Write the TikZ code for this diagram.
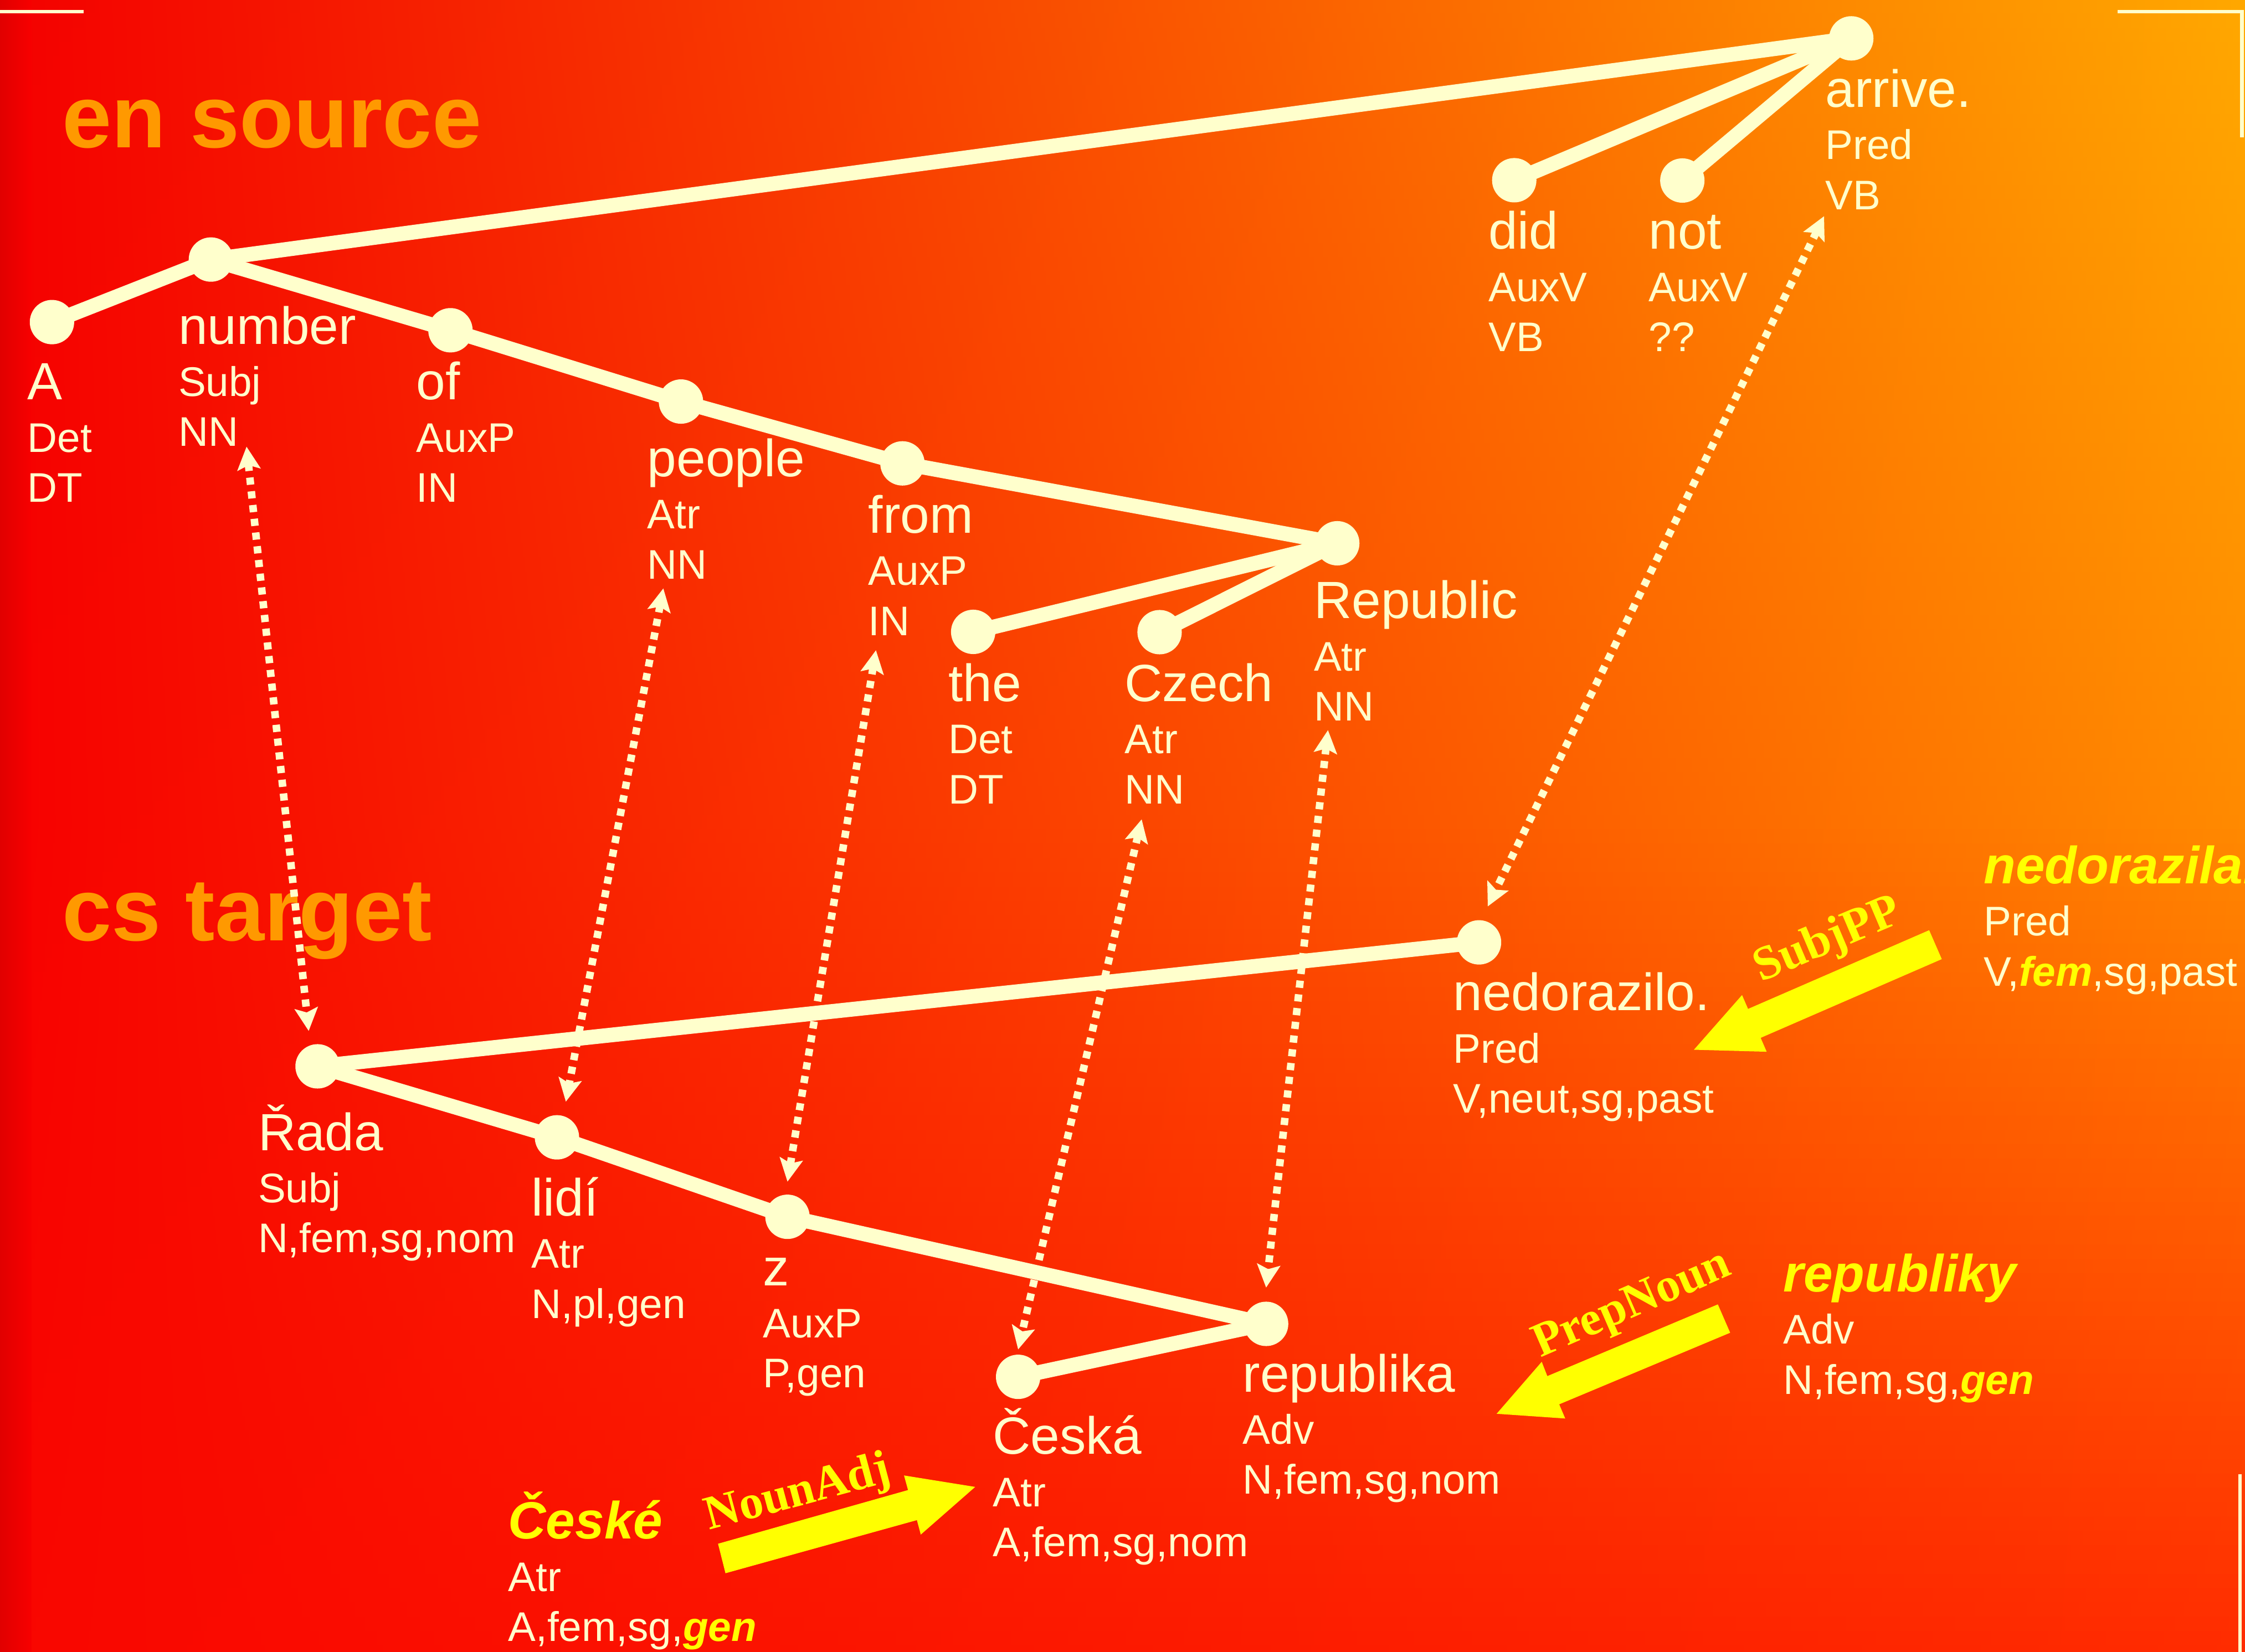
\documentclass[tikz,border=0pt]{standalone}
\usepackage{fontspec}
\setmainfont{Liberation Sans}
\newfontfamily\serifwa{Liberation Serif}
\usetikzlibrary{arrows.meta}
\definecolor{cream}{HTML}{FFFFCC}
\definecolor{yel}{HTML}{FFFF00}
\definecolor{ttl}{HTML}{FF9900}
% background colours: columns x=0 (b), 784 (c), 1568 (d); rows y=0,577,1154
\definecolor{b0}{HTML}{F40000}\definecolor{b1}{HTML}{F70000}\definecolor{b2}{HTML}{F90600}
\definecolor{c0}{HTML}{FF4600}\definecolor{c1}{HTML}{FF5400}\definecolor{c2}{HTML}{FF3200}
\definecolor{d0}{HTML}{FFA800}\definecolor{d1}{HTML}{FF8A00}\definecolor{d2}{HTML}{FF2C00}
\definecolor{edgedark}{HTML}{E00000}
\newcommand\wf{\fontsize{20.83pt}{25pt}\selectfont}
\newcommand\tf{\fontsize{16.45pt}{20pt}\selectfont}
\newcommand\hl[1]{{\bfseries\itshape\color{yel}#1}}
\newcommand\tlab[3]{\vtop{\lineskiplimit=-2cm\hbox{\wf #1}\baselineskip=0.73cm\hbox{\tf #2}\baselineskip=0.70cm\hbox{\tf #3}}}
\tikzset{
  dot/.style={circle, fill=cream, inner sep=0pt, minimum size=0.62cm},
  edge/.style={draw=cream, line width=0.205cm},
  lab/.style={anchor=base west, inner sep=0pt, outer sep=0pt, text=cream},
  ttlnode/.style={anchor=base west, inner sep=0pt, text=ttl, font=\fontsize{35.3pt}{40pt}\selectfont\bfseries},
  wa/.style={anchor=base west, inner sep=0pt, text=yel, font=\serifwa\bfseries\fontsize{19.1pt}{23pt}\selectfont},
  link/.style={draw=cream, line width=0.105cm, dash pattern=on 0.1cm off 0.093cm,
    arrows={Stealth[length=0.32cm,width=0.32cm,inset=0.06cm]-Stealth[length=0.32cm,width=0.32cm,inset=0.06cm]}},
  fat/.style={fill=yel, draw=none},
  corner/.style={draw=cream, line width=0.05cm}
}
\begin{document}
\begin{tikzpicture}[x=0.02cm, y=-0.02cm]
\useasboundingbox (0,0) rectangle (1568,1154);
\clip (0,0) rectangle (1568,1154);
% background in horizontal strips
\foreach \i in {0,...,115}{
  \pgfmathsetmacro\yy{\i*10}
  \pgfmathsetmacro\yc{\yy+5}
  \pgfmathtruncatemacro\pa{100-min(\yc,577)/5.77}
  \pgfmathtruncatemacro\pb{100-max(\yc-577,0)/5.77}
  \colorlet{bgL}{b0!\pa!b1!\pb!b2}
  \colorlet{bgM}{c0!\pa!c1!\pb!c2}
  \colorlet{bgR}{d0!\pa!d1!\pb!d2}
  \shade[left color=bgL, middle color=bgM, right color=bgR] (-1,\yy-0.5) rectangle (1569,\yy+10.5);
}
\shade[left color=edgedark, right color=b1, draw=none] (-1,-1) rectangle (22,1155);
% corner marks
\draw[corner] (0,8.2) -- (58.5,8.2);
\draw[corner] (1479,8.2) -- (1565.9,8.2) -- (1565.9,95.9);
\draw[corner] (1564.4,1030) -- (1564.4,1155);
% titles
\node[ttlnode] (en) at (43,103) {en source};
\node[ttlnode] (cs) at (43,657) {cs target};
% English tree dots
\node[dot] (arrive) at (1293,26.8) {};
\node[dot] (did) at (1057.6,125.9) {};
\node[dot] (not) at (1175,126.1) {};
\node[dot] (number) at (147.3,181.3) {};
\node[dot] (A) at (36.3,225) {};
\node[dot] (of) at (314.6,230.7) {};
\node[dot] (people) at (475.6,280.5) {};
\node[dot] (from) at (630.3,323.7) {};
\node[dot] (Republic) at (934,379.5) {};
\node[dot] (the) at (679.7,441.4) {};
\node[dot] (Czech) at (809.9,441.6) {};
% Czech tree dots
\node[dot] (nedorazilo) at (1033,658.3) {};
\node[dot] (Rada) at (221.8,744.9) {};
\node[dot] (lidi) at (389,794.5) {};
\node[dot] (z) at (550,850) {};
\node[dot] (republika) at (884.3,924.8) {};
\node[dot] (Ceska) at (711.1,961.8) {};
% tree edges
\draw[edge] (arrive.center) -- (number.center);
\draw[edge] (arrive.center) -- (did.center);
\draw[edge] (arrive.center) -- (not.center);
\draw[edge] (number.center) -- (A.center);
\draw[edge] (number.center) -- (of.center);
\draw[edge] (of.center) -- (people.center);
\draw[edge] (people.center) -- (from.center);
\draw[edge] (from.center) -- (Republic.center);
\draw[edge] (Republic.center) -- (the.center);
\draw[edge] (Republic.center) -- (Czech.center);
\draw[edge] (nedorazilo.center) -- (Rada.center);
\draw[edge] (Rada.center) -- (lidi.center);
\draw[edge] (lidi.center) -- (z.center);
\draw[edge] (z.center) -- (republika.center);
\draw[edge] (republika.center) -- (Ceska.center);
% labels English
\node[lab] (l-A) at (19.2,279.3) {\tlab{A}{Det}{DT}};
\node[lab] (l-number) at (124.6,240.3) {\tlab{number}{Subj}{NN}};
\node[lab] (l-of) at (290.9,279.3) {\tlab{of}{AuxP}{IN}};
\node[lab] (l-people) at (452.2,332.8) {\tlab{people}{Atr}{NN}};
\node[lab] (l-from) at (606.6,372.3) {\tlab{from}{AuxP}{IN}};
\node[lab] (l-the) at (662.4,490) {\tlab{the}{Det}{DT}};
\node[lab] (l-Czech) at (785.5,490) {\tlab{Czech}{Atr}{NN}};
\node[lab] (l-Republic) at (917.7,432) {\tlab{Republic}{Atr}{NN}};
\node[lab] (l-did) at (1039.6,174) {\tlab{did}{AuxV}{VB}};
\node[lab] (l-not) at (1151.6,174) {\tlab{not}{AuxV}{??}};
\node[lab] (l-arrive) at (1275,74.8) {\tlab{arrive.}{Pred}{VB}};
% labels Czech
\node[lab] (l-nedorazilo) at (1015,706) {\tlab{nedorazilo.}{Pred}{V,neut,sg,past}};
\node[lab] (l-Rada) at (180.3,803.6) {\tlab{Řada}{Subj}{N,fem,sg,nom}};
\node[lab] (l-lidi) at (371.3,849.3) {\tlab{lidí}{Atr}{N,pl,gen}};
\node[lab] (l-z) at (533,898) {\tlab{z}{AuxP}{P,gen}};
\node[lab] (l-Ceska) at (693.5,1015.9) {\tlab{Česká}{Atr}{A,fem,sg,nom}};
\node[lab] (l-republika) at (868,972.2) {\tlab{republika}{Adv}{N,fem,sg,nom}};
% highlighted alternatives
\node[lab] (l-nedorazila) at (1385.5,617.3) {\tlab{\hl{nedorazila.}}{Pred}{V,\hl{fem},sg,past}};
\node[lab] (l-republiky) at (1245.5,902.3) {\tlab{\hl{republiky}}{Adv}{N,fem,sg,\hl{gen}}};
\node[lab] (l-Ceske) at (355,1075) {\tlab{\hl{České}}{Atr}{A,fem,sg,\hl{gen}}};
% alignment link end points
\coordinate (t-number) at (172.2,312);
\coordinate (t-Rada) at (215.6,720.2);
\coordinate (t-people) at (463.3,411);
\coordinate (t-lidi) at (395.2,769.6);
\coordinate (t-from) at (611.8,454.2);
\coordinate (t-z) at (550,825.5);
\coordinate (t-Czech) at (797.4,572.3);
\coordinate (t-Ceska) at (711.1,942.7);
\coordinate (t-Republic) at (927.5,510);
\coordinate (t-republika) at (884.3,899.5);
\coordinate (t-arrive) at (1274,151);
\coordinate (t-nedorazilo) at (1039.1,633.2);
\draw[link] (t-number) -- (t-Rada);
\draw[link] (t-people) -- (t-lidi);
\draw[link] (t-from) -- (t-z);
\draw[link] (t-Czech) -- (t-Ceska);
\draw[link] (t-Republic) -- (t-republika);
\draw[link] (t-arrive) -- (t-nedorazilo);
% fat yellow arrows
\fill[fat] (1347.4,649.8) -- (1220.9,704.8) -- (1216.7,695.1) -- (1183.1,733.3) -- (1233.9,734.7) -- (1229.7,725.0) -- (1356.2,670.0) -- cycle;
\fill[fat] (1199.8,911.2) -- (1080.7,961.3) -- (1076.8,951.3) -- (1045.3,987.6) -- (1093.2,990.9) -- (1089,981) -- (1208.4,931) -- cycle;
\fill[fat] (501.5,1078.4) -- (634.2,1040.9) -- (631.4,1030.7) -- (681.1,1038.7) -- (643.1,1072) -- (640.4,1061.9) -- (506.7,1099) -- cycle;
\node[wa, rotate=23] (w-subjpp) at (1229.8,686.1) {SubjPP};
\node[wa, rotate=23.5] (w-prepnoun) at (1075.7,948.7) {PrepNoun};
\node[wa, rotate=15] (w-nounadj) at (495.2,1069) {NounAdj};
\end{tikzpicture}
\end{document}
